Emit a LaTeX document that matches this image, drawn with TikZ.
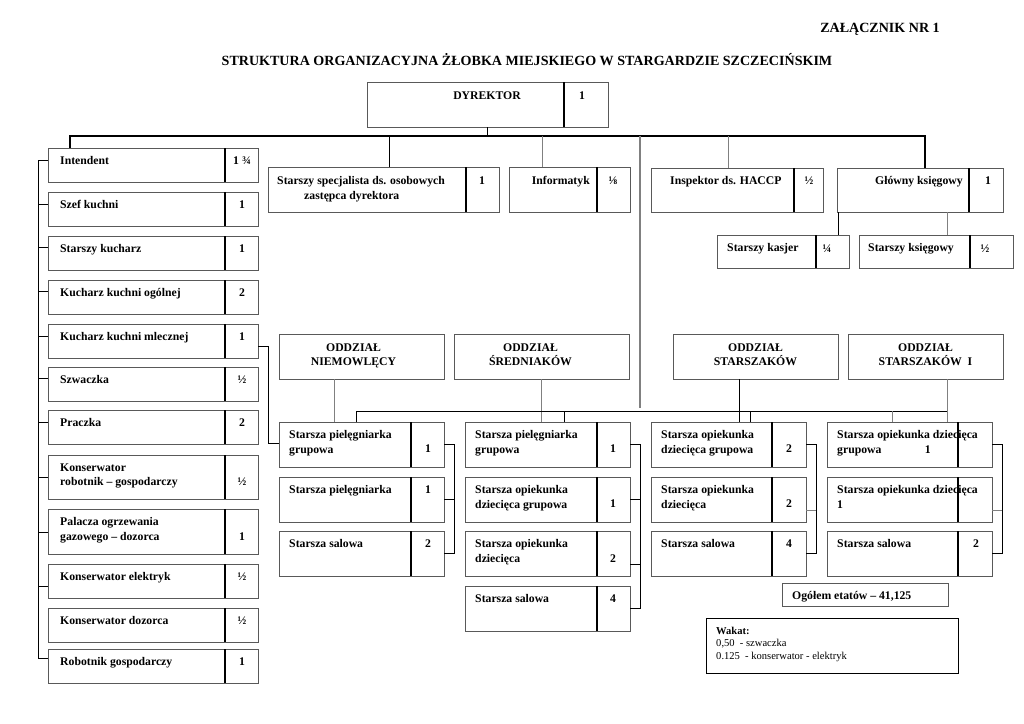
\documentclass[tikz,border=0pt]{standalone}
\usepackage{fontspec}
\setmainfont{Liberation Serif}
\usetikzlibrary{calc}

\begin{document}
\begin{tikzpicture}[
    x=0.03cm, y=-0.03cm,
    ramka/.style={draw=gray!70!black, line width=0.6pt, anchor=north west, inner sep=0pt, outer sep=0pt},
    podzial/.style={black, line width=1pt},
    opis/.style={anchor=north west, inner sep=0pt, yshift=-0.07cm, align=left, font=\fontsize{10}{12.5}\selectfont\bfseries},
    liczba/.style={anchor=base, inner sep=0pt, font=\fontsize{10}{12}\selectfont\bfseries},
    lacznik/.style={black, line width=0.8pt},
    szary/.style={gray, line width=0.7pt}
]
    \useasboundingbox[fill=white] (0,0) rectangle (1024,724);

    % naglowek
    \node[liczba, anchor=base east, font=\fontsize{12}{14}\selectfont\bfseries] (zal) at (940,32) {ZAŁĄCZNIK NR 1};
    \node[liczba, font=\fontsize{12}{14}\selectfont\bfseries] (tytul) at (527,65) {STRUKTURA ORGANIZACYJNA ŻŁOBKA MIEJSKIEGO W STARGARDZIE SZCZECIŃSKIM};

    % dyrektor
    \node[ramka, minimum width=7.23cm, minimum height=1.35cm] (dyr) at (367,82) {};
    \draw[podzial] ($(dyr.north west)+(197,0)$) -- ($(dyr.south west)+(197,0)$);
    \node[liczba] (dyr-t) at ($(dyr.north west)+(120,17)$) {DYREKTOR};
    \node[liczba] (dyr-n) at ($(dyr.north west)+(215,17)$) {1};

    % kolumna lewa
    \foreach \i/\y/\h/\nazwa/\etat/\nb in {
        1/148/1.02cm/Intendent/{1 ¾}/16,
        2/192/1.02cm/Szef kuchni/1/16,
        3/236/1.02cm/Starszy kucharz/1/16,
        4/280/1.02cm/Kucharz kuchni ogólnej/2/16,
        5/324/1.02cm/Kucharz kuchni mlecznej/1/16,
        6/367/1.02cm/Szwaczka/½/16,
        7/410/1.02cm/Praczka/2/16,
        8/455/1.32cm/{Konserwator\\robotnik – gospodarczy}/½/30,
        9/509/1.35cm/{Palacza ogrzewania\\gazowego – dozorca}/1/31,
        10/564/1.02cm/Konserwator elektryk/½/16,
        11/608/1.02cm/Konserwator dozorca/½/16,
        12/649/1.02cm/Robotnik gospodarczy/1/16}
    {
        \node[ramka, minimum width=6.3cm, minimum height=\h] (L\i) at (48,\y) {};
        \draw[podzial] ($(L\i.north west)+(177,0)$) -- ($(L\i.south west)+(177,0)$);
        \node[opis] (L\i-t) at ($(L\i.north west)+(12,6)$) {\nazwa};
        \node[liczba] (L\i-n) at ($(L\i.north east)+(-16,\nb)$) {\etat};
    }
    \foreach \i/\o in {1/12,2/12,3/11,4/11,5/12,6/11,7/12,8/22,9/23,10/22}
        \draw[lacznik] ($(L\i.north west)+(0,\o)$) -- ++(-10,0);
    \draw[lacznik] ($(L1.north west)+(-10,12)$) |- ($(L12.north west)+(0,9)$);

    % stanowiska pod dyrektorem
    \node[ramka, minimum width=6.93cm, minimum height=1.35cm] (spec) at (268,167) {};
    \draw[podzial] ($(spec.north west)+(198,0)$) -- ($(spec.south west)+(198,0)$);
    \node[opis] (spec-t) at ($(spec.north west)+(9,7)$) {Starszy specjalista ds. osobowych\\\hspace*{0.81cm}zastępca dyrektora};
    \node[liczba] (spec-n) at ($(spec.north west)+(214,17)$) {1};

    \node[ramka, minimum width=3.63cm, minimum height=1.35cm] (inf) at (509,167) {};
    \draw[podzial] ($(inf.north west)+(88,0)$) -- ($(inf.south west)+(88,0)$);
    \node[opis, anchor=north east] (inf-t) at ($(inf.north west)+(81,7)$) {Informatyk};
    \node[liczba] (inf-n) at ($(inf.north west)+(104,17)$) {⅛};

    \node[ramka, minimum width=5.16cm, minimum height=1.32cm] (haccp) at (651,168) {};
    \draw[podzial] ($(haccp.north west)+(143,0)$) -- ($(haccp.south west)+(143,0)$);
    \node[opis] (haccp-t) at ($(haccp.north west)+(19,6)$) {Inspektor ds. HACCP};
    \node[liczba] (haccp-n) at ($(haccp.north west)+(158,16)$) {½};

    \node[ramka, minimum width=4.98cm, minimum height=1.32cm] (glowny) at (837,168) {};
    \draw[podzial] ($(glowny.north west)+(132,0)$) -- ($(glowny.south west)+(132,0)$);
    \node[opis, anchor=north east] (glowny-t) at ($(glowny.north west)+(126,6)$) {Główny księgowy};
    \node[liczba] (glowny-n) at ($(glowny.north west)+(151,16)$) {1};

    \node[ramka, minimum width=3.96cm, minimum height=0.99cm] (kasjer) at (717,235) {};
    \draw[podzial] ($(kasjer.north west)+(99,0)$) -- ($(kasjer.south west)+(99,0)$);
    \node[opis] (kasjer-t) at ($(kasjer.north west)+(10,6)$) {Starszy kasjer};
    \node[liczba] (kasjer-n) at ($(kasjer.north west)+(110,17)$) {¼};

    \node[ramka, minimum width=4.62cm, minimum height=0.99cm] (ksieg) at (859,235) {};
    \draw[podzial] ($(ksieg.north west)+(111,0)$) -- ($(ksieg.south west)+(111,0)$);
    \node[opis] (ksieg-t) at ($(ksieg.north west)+(9,6)$) {Starszy księgowy};
    \node[liczba] (ksieg-n) at ($(ksieg.north west)+(126,17)$) {½};

    % oddzialy
    \node[ramka, minimum width=4.95cm, minimum height=1.35cm] (odd1) at (279,334) {};
    \node[ramka, minimum width=5.25cm, minimum height=1.35cm] (odd2) at (454,334) {};
    \node[ramka, minimum width=4.95cm, minimum height=1.35cm] (odd3) at (673,334) {};
    \node[ramka, minimum width=4.65cm, minimum height=1.35cm] (odd4) at (848,334) {};
    \node[opis, anchor=north, align=center] (odd1-t) at ($(odd1.north)+(-8,7)$) {ODDZIAŁ\\NIEMOWLĘCY};
    \node[opis, anchor=north, align=center] (odd2-t) at ($(odd2.north)+(-11,7)$) {ODDZIAŁ\\ŚREDNIAKÓW};
    \node[opis, anchor=north, align=center] (odd3-t) at ($(odd3.north)+(0,7)$) {ODDZIAŁ\\STARSZAKÓW};
    \node[opis, anchor=north, align=center] (odd4-t) at ($(odd4.north)+(0,7)$) {ODDZIAŁ\\STARSZAKÓW\enspace I};

    % stanowiska w oddzialach
    \foreach \n/\gx/\gy/\w/\d/\nx/\nazwa/\etat/\nb in {
        g1r1/279/422/4.95cm/132/149/{Starsza pielęgniarka\\grupowa}/1/30,
        g1r2/279/477/4.95cm/132/149/Starsza pielęgniarka/1/16,
        g1r3/279/531/4.95cm/132/149/Starsza salowa/2/16,
        g2r1/465/422/4.95cm/132/148/{Starsza pielęgniarka\\grupowa}/1/30,
        g2r2/465/477/4.95cm/132/148/{Starsza opiekunka\\dziecięca grupowa}/1/30,
        g2r3/465/531/4.95cm/132/148/{Starsza opiekunka\\dziecięca}/2/31,
        g2r4/465/586/4.95cm/132/148/Starsza salowa/4/16,
        g3r1/651/422/4.65cm/121/138/{Starsza opiekunka\\dziecięca grupowa}/2/30,
        g3r2/651/477/4.65cm/121/138/{Starsza opiekunka\\dziecięca}/2/30,
        g3r3/651/531/4.65cm/121/138/Starsza salowa/4/16,
        g4r1/827/422/4.95cm/131/149/{Starsza opiekunka dziecięca\\grupowa\hspace{1.3cm}1}/{}/16,
        g4r2/827/477/4.95cm/131/149/{Starsza opiekunka dziecięca\\1}/{}/16,
        g4r3/827/531/4.95cm/131/149/Starsza salowa/2/16}
    {
        \node[ramka, minimum width=\w, minimum height=1.35cm] (\n) at (\gx,\gy) {};
        \node[opis] (\n-t) at ($(\n.north west)+(10,6)$) {\nazwa};
        \draw[podzial] ($(\n.north west)+(\d,0)$) -- ($(\n.south west)+(\d,0)$);
        \node[liczba] (\n-n) at ($(\n.north west)+(\nx,\nb)$) {\etat};
    }

    % polaczenia
    \draw[lacznik] (dyr.south) -- ++(0,9);
    \draw[lacznik, line width=1pt] ($(L1.north west)+(22,0)$) |- ($(glowny.north west)+(88,-32)$) -- ($(glowny.north west)+(88,0)$);
    \draw[lacznik] ($(spec.north west)+(121,0)$) -- ++(0,-31);
    \draw[szary] ($(inf.north west)+(33,0)$) -- ++(0,-31);
    \draw[szary] ($(haccp.north west)+(77,0)$) -- ++(0,-32);
    \coordinate (szyna) at ($(dyr.south)+(0,9)$);
    \coordinate (pion) at ($(g2r1.north east)+(10,-14)$);
    \draw[szary, line width=1pt] (szyna -| pion) -- (pion);
    \draw[lacznik] ($(kasjer.north west)+(121,0)$) -- ++(0,-23);
    \draw[szary] ($(ksieg.north west)+(88,0)$) -- ++(0,-23);
    \draw[lacznik] ($(L5.north east)+(0,22)$) -- ++(10,0) |- ($(g1r1.north west)+(0,21)$);

    \draw[szary] ($(odd1.south west)+(55,0)$) -- ($(g1r1.north west)+(55,0)$);
    \draw[szary] (odd2.south) -- (odd2.south |- g2r1.north);
    \draw[lacznik] ($(odd3.south west)+(66,0)$) -- ($(g3r1.north west)+(88,0)$);
    \draw[szary] ($(odd4.south west)+(99,0)$) -- ($(g4r1.north west)+(120,0)$);
    \draw[lacznik] ($(g1r1.north west)+(77,0)$) |- ($(odd4.south west)+(99,32)$);
    \draw[lacznik] ($(g2r1.north west)+(99,0)$) -- ++(0,-11);
    \draw[lacznik] ($(g3r1.north west)+(99,0)$) -- ++(0,-11);
    \draw[szary] ($(g4r1.north west)+(65,0)$) -- ++(0,-11);

    \draw[lacznik] ($(g1r1.north east)+(0,22)$) -- ++(10,0) |- ($(g1r3.north east)+(0,22)$);
    \draw[lacznik] ($(g1r2.north east)+(0,22)$) -- ++(10,0);
    \draw[lacznik] ($(g2r1.north east)+(0,22)$) -- ++(10,0) |- ($(g2r4.north east)+(0,22)$);
    \draw[lacznik] ($(g2r2.north east)+(0,22)$) -- ++(10,0);
    \draw[lacznik] ($(g2r3.north east)+(0,33)$) -- ++(10,0);
    \draw[lacznik] ($(g3r1.north east)+(0,22)$) -- ++(10,0) |- ($(g3r3.north east)+(0,22)$);
    \draw[szary] ($(g3r2.north east)+(0,33)$) -- ++(10,0);
    \draw[lacznik] ($(g4r1.north east)+(0,22)$) -- ++(10,0) |- ($(g4r3.north east)+(0,22)$);
    \draw[szary] ($(g4r2.north east)+(0,33)$) -- ++(10,0);

    % podsumowanie
    \node[ramka, minimum width=4.98cm, minimum height=0.69cm] (ogolem) at (782,583) {};
    \node[liczba, anchor=base west] (ogolem-t) at ($(ogolem.north west)+(10,16)$) {Ogółem etatów – 41,125};
    \node[ramka, draw=black, line width=0.8pt, minimum width=7.56cm, minimum height=1.65cm] (wakat) at (706,618) {};
    \node[anchor=north west, inner sep=0pt, align=left, font=\fontsize{9}{10.6}\selectfont] (wakat-t) at ($(wakat.north west)+(10,9)$) {\textbf{Wakat:}\\0,50~ - szwaczka\\0.125~ - konserwator - elektryk};
\end{tikzpicture}
\end{document}
